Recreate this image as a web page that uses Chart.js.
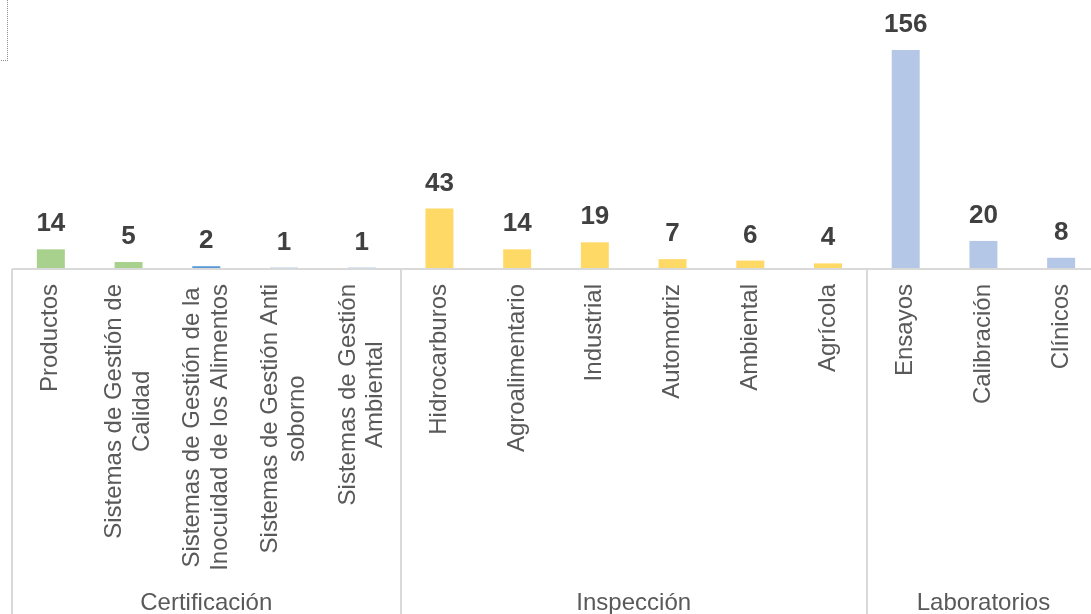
<!DOCTYPE HTML><html><head>
<meta name="viewport" content="width=device-width, initial-scale=1">
<style>
    html, body {
      margin: 0;
      padding: 0;
      background: #ffffff;
      overflow: hidden;
    }
    .wrap{
      position: relative;
      width: 1102px;
      height: 614px;
    }
    .frame{
      position: absolute;
      left: -10px;
      top: -10px;
      width: 16px;
      height: 69px;
      border: 1px dotted #8c8c8c;
    }
</style>
</head>
<body>

<div class="wrap">
    <canvas id="myChart" width="1102" height="614"></canvas>
    <div class="frame"></div>
</div>

<script src="https://cdn.jsdelivr.net/npm/chart.js@4/dist/chart.umd.min.js"></script>
<script>
// categories (each one split in the lines it shows on the chart)
var categories = [
    ["Productos"],
    ["Sistemas de Gestión de", "Calidad"],
    ["Sistemas de Gestión de la", "Inocuidad de los Alimentos"],
    ["Sistemas de Gestión Anti", "soborno"],
    ["Sistemas de Gestión", "Ambiental"],
    ["Hidrocarburos"],
    ["Agroalimentario"],
    ["Industrial"],
    ["Automotriz"],
    ["Ambiental"],
    ["Agrícola"],
    ["Ensayos"],
    ["Calibración"],
    ["Clínicos"]
];
var values = [14, 5, 2, 1, 1, 43, 14, 19, 7, 6, 4, 156, 20, 8];

// groups shown under the categories, with how many categories each one holds
var groups = ["Certificación", "Inspección", "Laboratorios"];
var groupSizes = [5, 6, 3];

var barColors = [
    '#A9D18E', '#A9D18E', '#5B9BD5', '#9DC3E6', '#9DC3E6',
    '#FFD966', '#FFD966', '#FFD966', '#FFD966', '#FFD966', '#FFD966',
    '#B4C7E7', '#B4C7E7', '#B4C7E7'
];

var FONT = "'Liberation Sans', Arial, sans-serif";

// value labels, category labels, group labels and separator lines
var decor = {
    id: 'decor',
    afterDatasetsDraw: function(chart) {
        var ctx = chart.ctx;
        var area = chart.chartArea;
        var xs = chart.scales.x;
        var meta = chart.getDatasetMeta(0);
        var step = (area.right - area.left) / categories.length;

        ctx.save();

        // base line and group separators
        ctx.strokeStyle = '#D9D9D9';
        ctx.lineWidth = 2;
        ctx.beginPath();
        ctx.moveTo(area.left, area.bottom);
        ctx.lineTo(area.right, area.bottom);
        var pos = 0;
        for (var g = 0; g <= groups.length; g++) {
            var sx = Math.round(area.left + pos * step);
            ctx.moveTo(sx, area.bottom);
            ctx.lineTo(sx, chart.height);
            if (g < groups.length) pos += groupSizes[g];
        }
        ctx.stroke();

        // values on top of the bars
        ctx.fillStyle = '#404040';
        ctx.font = "bold 26px " + FONT;
        ctx.textAlign = 'center';
        ctx.textBaseline = 'alphabetic';
        meta.data.forEach(function(bar, i) {
            ctx.fillText(values[i], bar.x, bar.y - 18);
        });

        // rotated category labels, lines centred on each other
        ctx.fillStyle = '#595959';
        ctx.font = "24px " + FONT;
        var lineH = 27.5;
        categories.forEach(function(lines, i) {
            var x = xs.getPixelForValue(i);
            var w = 0;
            lines.forEach(function(l) { w = Math.max(w, ctx.measureText(l).width); });
            ctx.save();
            ctx.translate(x, area.bottom + 15);
            ctx.rotate(-Math.PI / 2);
            ctx.textAlign = 'center';
            ctx.textBaseline = 'middle';
            lines.forEach(function(l, j) {
                ctx.fillText(l, -w / 2, (j - (lines.length - 1) / 2) * lineH);
            });
            ctx.restore();
        });

        // group labels
        ctx.font = "24px " + FONT;
        ctx.textAlign = 'center';
        ctx.textBaseline = 'alphabetic';
        pos = 0;
        groups.forEach(function(name, g) {
            var gx = area.left + (pos + groupSizes[g] / 2) * step;
            ctx.fillText(name, gx, 610);
            pos += groupSizes[g];
        });

        ctx.restore();
    }
};

var ctx = document.getElementById('myChart');
var myChart = new Chart(ctx, {
    type: 'bar',
    data: {
        labels: categories.map(function(c) { return c.join(' '); }),
        datasets: [{
            data: values,
            backgroundColor: barColors,
            borderWidth: 0,
            categoryPercentage: 1,
            barPercentage: 0.36
        }]
    },
    options: {
        responsive: false,
        animation: false,
        layout: {
            padding: { left: 12, right: 2, top: 5, bottom: 345 }
        },
        plugins: {
            legend: { display: false },
            tooltip: { enabled: false }
        },
        scales: {
            x: { display: false },
            y: { display: false, min: 0, max: 188 }
        }
    },
    plugins: [decor]
});
</script>

</body></html>
